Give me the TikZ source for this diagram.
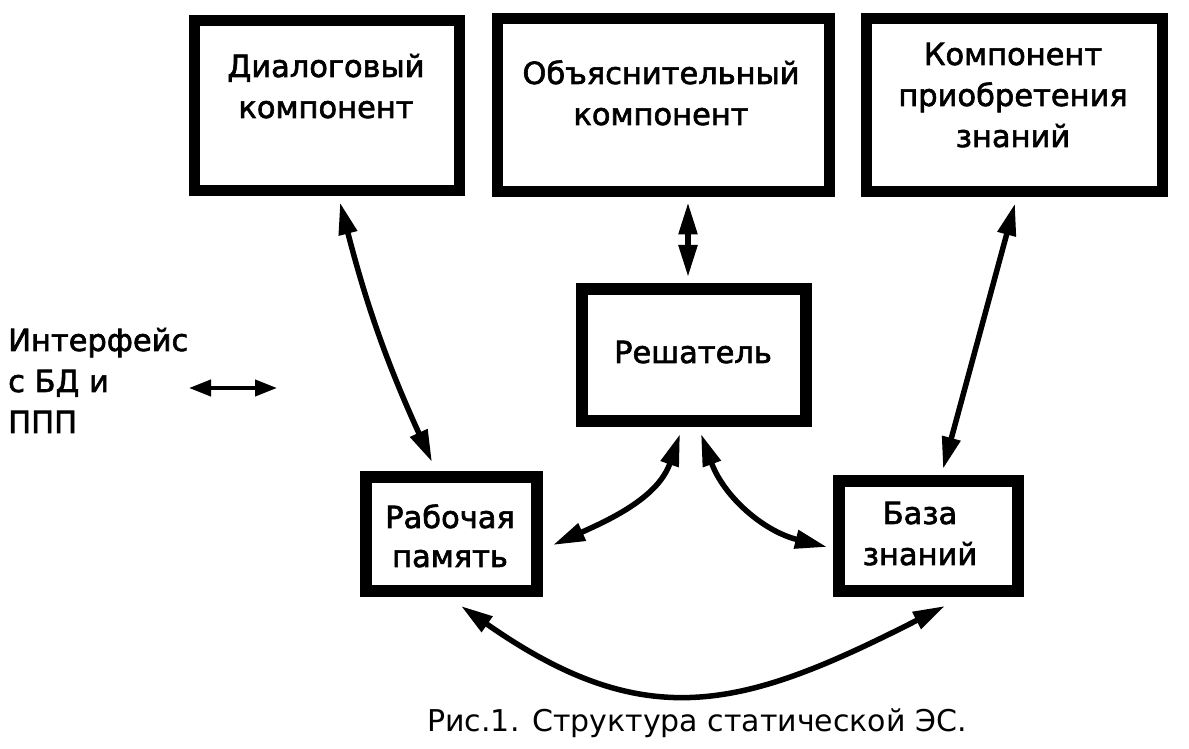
\documentclass[tikz,border=0pt]{standalone}
\usepackage{fontspec}
\setmainfont{DejaVu Sans}
\newfontfamily\lblfont{DejaVu Sans}[FakeBold=2]
\usetikzlibrary{arrows.meta}
\begin{document}
\begin{tikzpicture}[x=1pt,y=1pt,
  box/.style={draw=black, line width=11pt, rectangle, inner sep=0pt},
  sbox/.style={box, line width=12pt},
  lbl/.style={font=\lblfont\fontsize{30.5pt}{41pt}\selectfont, align=center, inner sep=0pt, anchor=base},
  capt/.style={font=\fontsize{30pt}{36pt}\selectfont, inner sep=0pt, anchor=base},
  conn/.style={line width=5.5pt, {Triangle[length=32pt,width=18pt]}-{Triangle[length=32pt,width=18pt]}},
  sconn/.style={line width=4pt, {Triangle[length=22pt,width=16pt]}-{Triangle[length=22pt,width=16pt]}},
]
\path[fill=white] (0,0) rectangle (1189,749);
\useasboundingbox (0,0) rectangle (1189,749);

% boxes
\node[box, minimum width=265pt, minimum height=170pt] (dial) at (327,643.5) {};
\node[box, minimum width=332pt, minimum height=173pt] (obj) at (663.5,644) {};
\node[box, minimum width=296pt, minimum height=173pt] (acq) at (1014.5,644) {};
\node[sbox, minimum width=224pt, minimum height=132pt] (resh) at (694,394) {};
\node[sbox, minimum width=171pt, minimum height=114pt] (rab) at (451.5,215) {};
\node[sbox, minimum width=179pt, minimum height=110pt] (baza) at (928.5,213) {};

% texts (anchor=base is the baseline of the last line)
\node[lbl] (tdial) at (326,631) {Диалоговый\\компонент};
\node[lbl] (tobj) at (661,624) {Объяснительный\\компонент};
\node[lbl] (tacq) at (1013,602) {Компонент\\приобретения\\знаний};
\node[lbl] (tresh) at (693,386) {Решатель};
\node[lbl] (trab) at (450,182) {Рабочая\\[-2pt]память};
\node[lbl] (tbaza) at (920,184) {База\\знаний};
\node[lbl, align=left, anchor=base west] (tif) at (8,316) {Интерфейс\\с БД и\\ППП};
\node[capt] (cap) at (697,17) {Рис.1. Структура статической ЭС.};

% interface arrow
\coordinate (ifa) at (189,361);
\coordinate (ifb) at (277,361);
\draw[sconn] (ifa) -- (ifb);

% connectors
\draw[conn] ([shift={(13,-6.5)}]dial.south) to[bend right=5] ([shift={(-19.5,9)}]rab.north);
\draw[conn] ([shift={(24.5,-5.5)}]obj.south) -- ([shift={(-6,6)}]resh.north);
\draw[conn] ([shift={(0.5,-6.5)}]acq.south) -- ([shift={(14.5,6)}]baza.north);
\draw[conn] ([shift={(-14,-7)}]resh.south) to[out=251,in=24] ([shift={(10,-11)}]rab.east);
\draw[conn] ([shift={(7,-7)}]resh.south) to[out=290,in=166] ([shift={(-6,-11)}]baza.west);
\draw[conn] ([shift={(9.5,-9)}]rab.south) to[out=-35,in=207,looseness=1.2] ([shift={(16.5,-9)}]baza.south);
\end{tikzpicture}
\end{document}
